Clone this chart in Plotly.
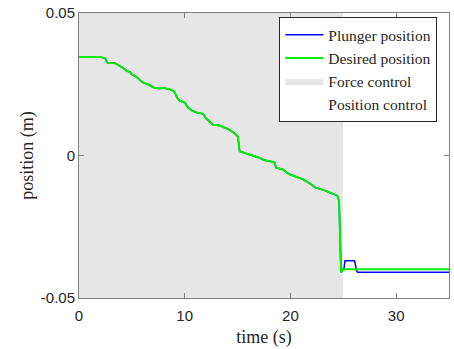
import plotly.graph_objects as go

# Desired position (m) vs time (s)
t_des = [0, 1.99, 2.46, 2.71, 3.41, 3.72, 4.19, 4.50, 4.82, 4.97, 5.44, 5.76, 6.07, 6.54,
         7.17, 7.64, 7.95, 8.58, 9.05, 9.29, 9.55, 10.02, 10.33, 10.65, 11.12, 11.74,
         11.99, 12.37, 12.68, 13.31, 13.78, 14.25, 14.72, 15.03, 15.10, 15.19, 15.66,
         16.13, 16.60, 17.07, 17.54, 18.48, 18.65, 19.27, 19.90, 20.53, 21.15, 21.78,
         22.41, 23.35, 23.97, 24.44, 24.60, 24.67, 24.72, 24.79, 24.98, 35]
v_des = [0.0346, 0.0346, 0.0341, 0.0325, 0.0324, 0.0318, 0.0307, 0.0297, 0.0293, 0.0285,
         0.0276, 0.0264, 0.0256, 0.0249, 0.0237, 0.0235, 0.0237, 0.0233, 0.0223, 0.0202,
         0.0192, 0.0185, 0.0168, 0.0158, 0.0151, 0.0146, 0.0131, 0.0119, 0.0108, 0.0105,
         0.0098, 0.0090, 0.0078, 0.0067, 0.0044, 0.0015, 0.0009, 0.0003, -0.0002, -0.0008,
         -0.0017, -0.0023, -0.0043, -0.0049, -0.0066, -0.0075, -0.0083, -0.0097, -0.0113,
         -0.0124, -0.0133, -0.0141, -0.0159, -0.0263, -0.0402, -0.0410, -0.0399, -0.0399]

# Plunger position: follows desired until 25 s, then these points
t_pl_tail = [25.07, 25.16, 26.06, 26.29, 26.39, 35]
v_pl_tail = [-0.0395, -0.0369, -0.0369, -0.0408, -0.0410, -0.0410]

t_pl = t_des[:-1] + t_pl_tail
v_pl = v_des[:-1] + v_pl_tail

force_span = [0, 25]
position_span = [25, 35]
y_lim = [-0.05, 0.05]
x_ticks = [0, 10, 20, 30]
y_ticks = [-0.05, 0, 0.05]
y_tick_text = ["-0.05", "0", "0.05"]

serif = "Liberation Serif"
sans = "Liberation Sans"

fig = go.Figure()
fig.add_trace(go.Scatter(
    x=[force_span[0], force_span[1], force_span[1], force_span[0], force_span[0]],
    y=[y_lim[0], y_lim[0], y_lim[1], y_lim[1], y_lim[0]],
    fill="toself", fillcolor="#e6e6e6", line=dict(width=0), mode="lines",
    name="Force control", legendrank=3, hoverinfo="skip"))
fig.add_trace(go.Scatter(
    x=[position_span[0], position_span[1], position_span[1], position_span[0], position_span[0]],
    y=[y_lim[0], y_lim[0], y_lim[1], y_lim[1], y_lim[0]],
    fill="toself", fillcolor="#ffffff", line=dict(width=0), mode="lines",
    name="Position control", legendrank=4, hoverinfo="skip"))
fig.add_trace(go.Scatter(x=t_pl, y=v_pl, mode="lines", name="Plunger position",
                         line=dict(color="#0000ff", width=1.5), legendrank=1))
fig.add_trace(go.Scatter(x=t_des, y=v_des, mode="lines", name="Desired position",
                         line=dict(color="#00ee00", width=2), legendrank=2))

axis_common = dict(showline=True, linecolor="#808080", linewidth=1, mirror="ticks",
                   ticks="inside", ticklen=5, tickcolor="#808080", showgrid=False,
                   zeroline=False, tickfont=dict(family=sans, size=15, color="#262626"))

fig.update_layout(
    width=454, height=349,
    margin=dict(l=78.5, r=4, t=10, b=51),
    paper_bgcolor="white", plot_bgcolor="white",
    xaxis=dict(range=[0, 35], tickvals=x_ticks, ticklabelstandoff=4,
               title=dict(text="time (s)", font=dict(family=serif, size=18, color="#262626"),
                          standoff=7),
               **axis_common),
    yaxis=dict(range=y_lim, tickvals=y_ticks, ticktext=y_tick_text,
               title=dict(text="position (m)", font=dict(family=serif, size=18, color="#262626"),
                          standoff=2),
               **axis_common),
    legend=dict(x=0.9685, xanchor="right", y=0.985, yanchor="top",
                bgcolor="white", bordercolor="#262626", borderwidth=1,
                font=dict(family=serif, size=15.5, color="#262626"),
                tracegroupgap=0, itemwidth=38),
    showlegend=True,
)

fig.write_html("out.html")
